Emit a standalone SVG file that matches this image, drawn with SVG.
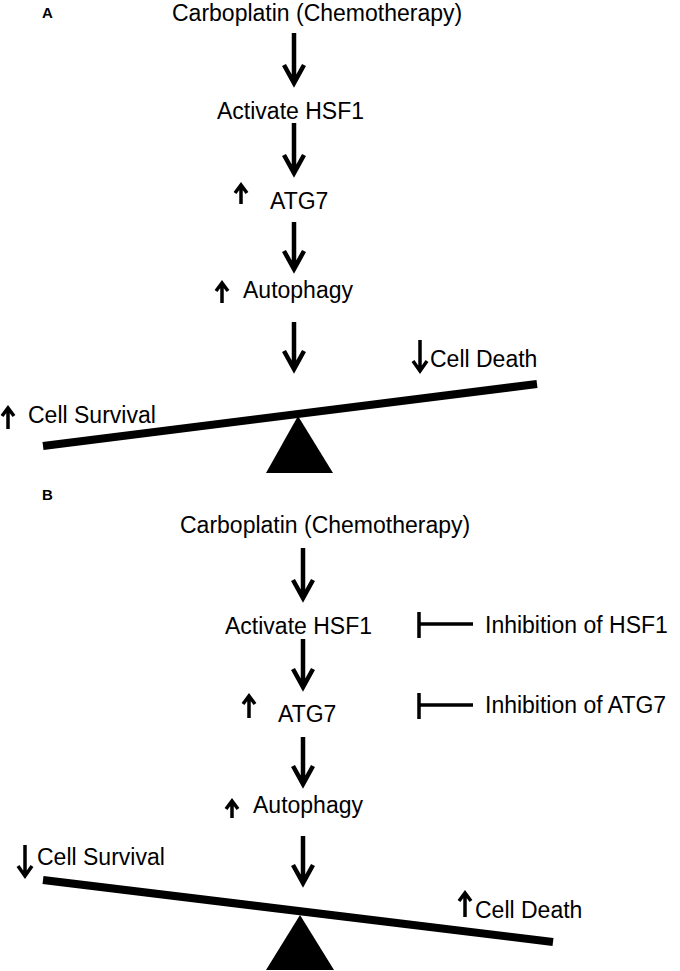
<svg xmlns="http://www.w3.org/2000/svg" width="680" height="971" viewBox="0 0 680 971">
<style>
text{font-family:"Liberation Sans",Arial,sans-serif;font-size:23px;fill:#000}
.lbl{font-weight:bold;font-size:15px}
.big{fill:none;stroke:#000;stroke-width:4.5;stroke-linejoin:miter;stroke-miterlimit:10}
.sm{fill:none;stroke:#000;stroke-width:3.5;stroke-linejoin:miter;stroke-miterlimit:10}
.beam{stroke:#000;stroke-width:8;stroke-linecap:butt}
.inh{fill:none;stroke:#000;stroke-width:3.5}
</style>
<rect width="680" height="971" fill="#fff"/>
<!-- Panel A -->
<g id="labelA"><text class="lbl" x="42" y="18">A</text></g>
<g id="A-carboplatin"><text x="172" y="21">Carboplatin (Chemotherapy)</text></g>
<g id="A-hsf1"><text x="217" y="119">Activate HSF1</text></g>
<g id="A-atg7"><path class="sm" d="M241,204 V186 M235,193 L241,185 L247,193"/><text x="270" y="209">ATG7</text></g>
<g id="A-autophagy"><path class="sm" d="M222,303 V284 M216,291 L222,283 L228,291"/><text x="243" y="298">Autophagy</text></g>
<g id="A-celldeath"><path class="sm" d="M420,340 V370 M413,361 L420,371 L427,361"/><text x="430" y="367">Cell Death</text></g>
<g id="A-cellsurvival"><path class="sm" d="M8,429 V409 M2,416 L8,408 L14,416"/><text x="28" y="423">Cell Survival</text></g>
<g id="A-seesaw"><line class="beam" x1="43" y1="446" x2="537" y2="384"/><polygon points="298,416 333,473 266,473" fill="#000"/></g>
<!-- Panel B -->
<g id="labelB"><text class="lbl" x="42" y="500">B</text></g>
<g id="B-carboplatin"><text x="180" y="533">Carboplatin (Chemotherapy)</text></g>
<g id="B-hsf1"><text x="225" y="634">Activate HSF1</text></g>
<g id="B-inh-hsf1"><text x="485" y="633">Inhibition of HSF1</text></g>
<g id="B-atg7"><path class="sm" d="M249,718 V697 M243,704 L249,696 L255,704"/><text x="278" y="722">ATG7</text></g>
<g id="B-inh-atg7"><text x="485" y="713">Inhibition of ATG7</text></g>
<g id="B-autophagy"><path class="sm" d="M232,818 V802 M226,809 L232,801 L238,809"/><text x="253" y="813">Autophagy</text></g>
<g id="B-cellsurvival"><path class="sm" d="M25,845 V875 M18,866 L25,876 L32,866"/><text x="37" y="865">Cell Survival</text></g>
<g id="B-celldeath"><path class="sm" d="M465,917 V894 M459,901 L465,893 L471,901"/><text x="475" y="918">Cell Death</text></g>
<g id="B-seesaw"><line class="beam" x1="43" y1="880" x2="553" y2="942"/><polygon points="300,915 334,970 266,970" fill="#000"/></g>
<!-- Connectors -->
<g id="connectors">
<path class="big" d="M294,33 V83 M284,65 L294,83 L304,65"/>
<path class="big" d="M294,123 V173 M284,155 L294,173 L304,155"/>
<path class="big" d="M294,222 V269 M284,251 L294,269 L304,251"/>
<path class="big" d="M294,322 V369 M284,351 L294,369 L304,351"/>
<path class="big" d="M303,548 V598 M293,580 L303,598 L313,580"/>
<path class="big" d="M303,639 V687 M293,669 L303,687 L313,669"/>
<path class="big" d="M303,737 V784 M293,766 L303,784 L313,766"/>
<path class="big" d="M303,836 V883 M293,865 L303,883 L313,865"/>
<path class="inh" d="M419,612 V638 M419,624 H473"/>
<path class="inh" d="M419,693 V719 M419,705 H473"/>
</g>
</svg>
